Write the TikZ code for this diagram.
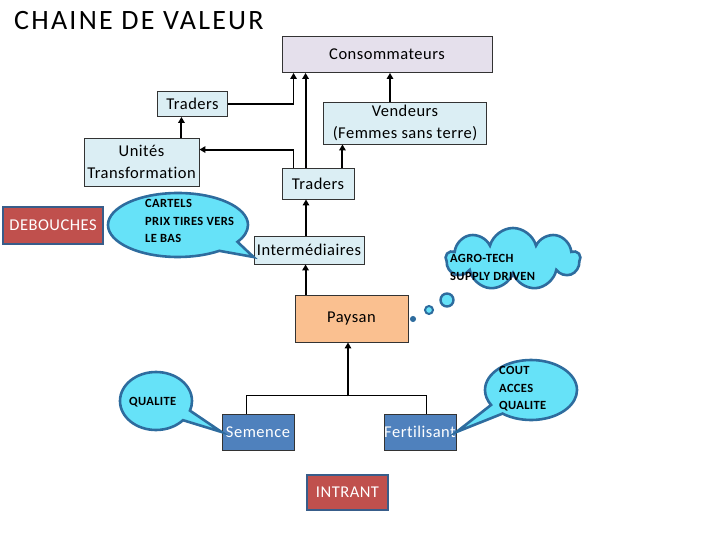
\documentclass[tikz,border=0pt]{standalone}
\usepackage{fontspec}
\setmainfont{Carlito}[LetterSpace=3,Ligatures={NoCommon}]
\newfontfamily\titlefont{Carlito}[LetterSpace=8,Ligatures={NoCommon}]
\usetikzlibrary{shapes.callouts,shapes.symbols,arrows.meta,calc}
\definecolor{boxblue}{RGB}{219,238,244}
\definecolor{lav}{RGB}{229,224,236}
\definecolor{peach}{RGB}{250,192,144}
\definecolor{redbox}{RGB}{192,80,77}
\definecolor{navy}{RGB}{56,93,138}
\definecolor{medblue}{RGB}{79,129,189}
\definecolor{cyanf}{RGB}{102,226,248}
\definecolor{cyanb}{RGB}{46,108,158}
\tikzset{
  box/.style={draw=black!80, line width=0.9pt, fill=boxblue, inner sep=0pt,
    font=\fontsize{16.5}{21.5}\selectfont, align=center},
  redb/.style={box, fill=redbox, draw=navy, line width=2.6pt, text=white},
  blueb/.style={box, fill=medblue, draw=black!80, text=white},
  arr/.style={line width=2pt, -{Triangle[length=6pt,width=6.5pt]}},
  arrthin/.style={line width=1.3pt, -{Triangle[length=6pt,width=6.5pt]}},
  thinl/.style={line width=1pt},
  bubble/.style={ellipse callout, fill=cyanf, draw=cyanb, line width=2.6pt,
    inner sep=0pt, callout pointer arc=22},
  btext/.style={font=\bfseries\fontsize{12.5}{17.5}\selectfont, inner sep=0pt, align=left},
  dot/.style={circle, fill=cyanf, draw=cyanb, inner sep=0pt}
}
\begin{document}
\begin{tikzpicture}[x=1pt,y=-1pt]
\useasboundingbox (0,0) rectangle (720,540);
% title
\node[anchor=base west, inner sep=0pt, font=\titlefont\fontsize{28}{32}\selectfont] (title) at (14,29.5) {CHAINE DE VALEUR};
% boxes
\node[box, fill=lav, minimum width=210, minimum height=36] (cons) at (387,54.5) {Consommateurs};
\node[box, minimum width=70, minimum height=25] (tr1) at (192.5,104) {Traders};
\node[box, minimum width=163, minimum height=42] (vend) at (405,123) {Vendeurs\\(Femmes sans terre)};
\node[box, minimum width=115, minimum height=48] (unit) at (141.5,162) {Unités\\Transformation};
\node[box, minimum width=72, minimum height=31] (tr2) at (318,183.5) {Traders};
\node[redb, minimum width=100, minimum height=37] (deb) at (53,225.5) {DEBOUCHES};
\node[box, minimum width=110, minimum height=28] (inter) at (309,250) {Intermédiaires};
\node[box, fill=peach, minimum width=113, minimum height=47] (paysan) at (351.5,318.5) {Paysan};
\node[blueb, minimum width=72, minimum height=36] (sem) at (258,432) {Semence};
\node[blueb, minimum width=72, minimum height=36] (fert) at (420,432) {Fertilisant};
\node[redb, minimum width=81, minimum height=35] (intr) at (347.5,492.5) {INTRANT};
% connectors top
\draw[arrthin] (tr1.east) -| ([xshift=12pt]cons.south west);
\draw[arr] ([xshift=24pt]tr2.north west) -- ([xshift=24pt]cons.south west);
\draw[thinl] ([xshift=12pt]tr2.north west) -- ++(0,-18) coordinate (j1);
\draw[arr] (j1) -- (j1 -| unit.east);
\draw[arr] ([xshift=-12pt]tr2.north east) -- ([xshift=-12pt]tr2.north east |- vend.south);
\draw[arr] ([xshift=-15pt]vend.north) -- ([xshift=-15pt]vend.north |- cons.south);
\draw[arr] ([xshift=-18pt]unit.north east) -- ([xshift=-18pt]unit.north east |- tr1.south);
\draw[arr] ([xshift=-3pt]inter.north) -- ([xshift=-3pt]inter.north |- tr2.south);
\draw[arr] ([xshift=11pt]paysan.north west) -- ([xshift=11pt]paysan.north west |- inter.south);
% tree
\draw[thinl] ([xshift=-12pt]sem.north) -- ++(0,-18) -| ([xshift=6pt]fert.north);
\draw[arr] ([xshift=-3.5pt,yshift=-54pt]paysan.south) -- ([xshift=-3.5pt]paysan.south);
% callouts
\node[bubble, minimum width=140, minimum height=64, callout absolute pointer={($(inter.west)+(0,7)$)}] (cb) at (178,225) {};
\node[btext, anchor=west] (ct) at (145,221) {CARTELS\\PRIX TIRES VERS\\LE BAS};
\node[bubble, minimum width=72, minimum height=58, callout absolute pointer={(sem.west)}] (qb) at (156,401) {};
\node[btext, anchor=west] (qt) at (129,402) {QUALITE};
\node[bubble, minimum width=92, minimum height=60, callout absolute pointer={(fert.east)}] (fb) at (531,390) {};
\node[btext, anchor=west] (ft) at (499,389) {COUT\\ACCES\\QUALITE};
% cloud
\node[cloud, cloud puffs=9, aspect=2.2, minimum width=134, minimum height=62, fill=cyanf, draw=cyanb, line width=2.6pt, inner sep=0pt] (cl) at (513,259) {};
\node[btext, anchor=west] (clt) at (450,267.5) {AGRO-TECH\\SUPPLY DRIVEN};
\node[dot, minimum size=13, line width=2.4pt] (d1) at (447,300) {};
\node[dot, minimum size=8, line width=2pt] (d2) at (429,310) {};
\node[dot, fill=cyanb, minimum size=5, line width=1pt] (d3) at (413,319) {};
\end{tikzpicture}
\end{document}
